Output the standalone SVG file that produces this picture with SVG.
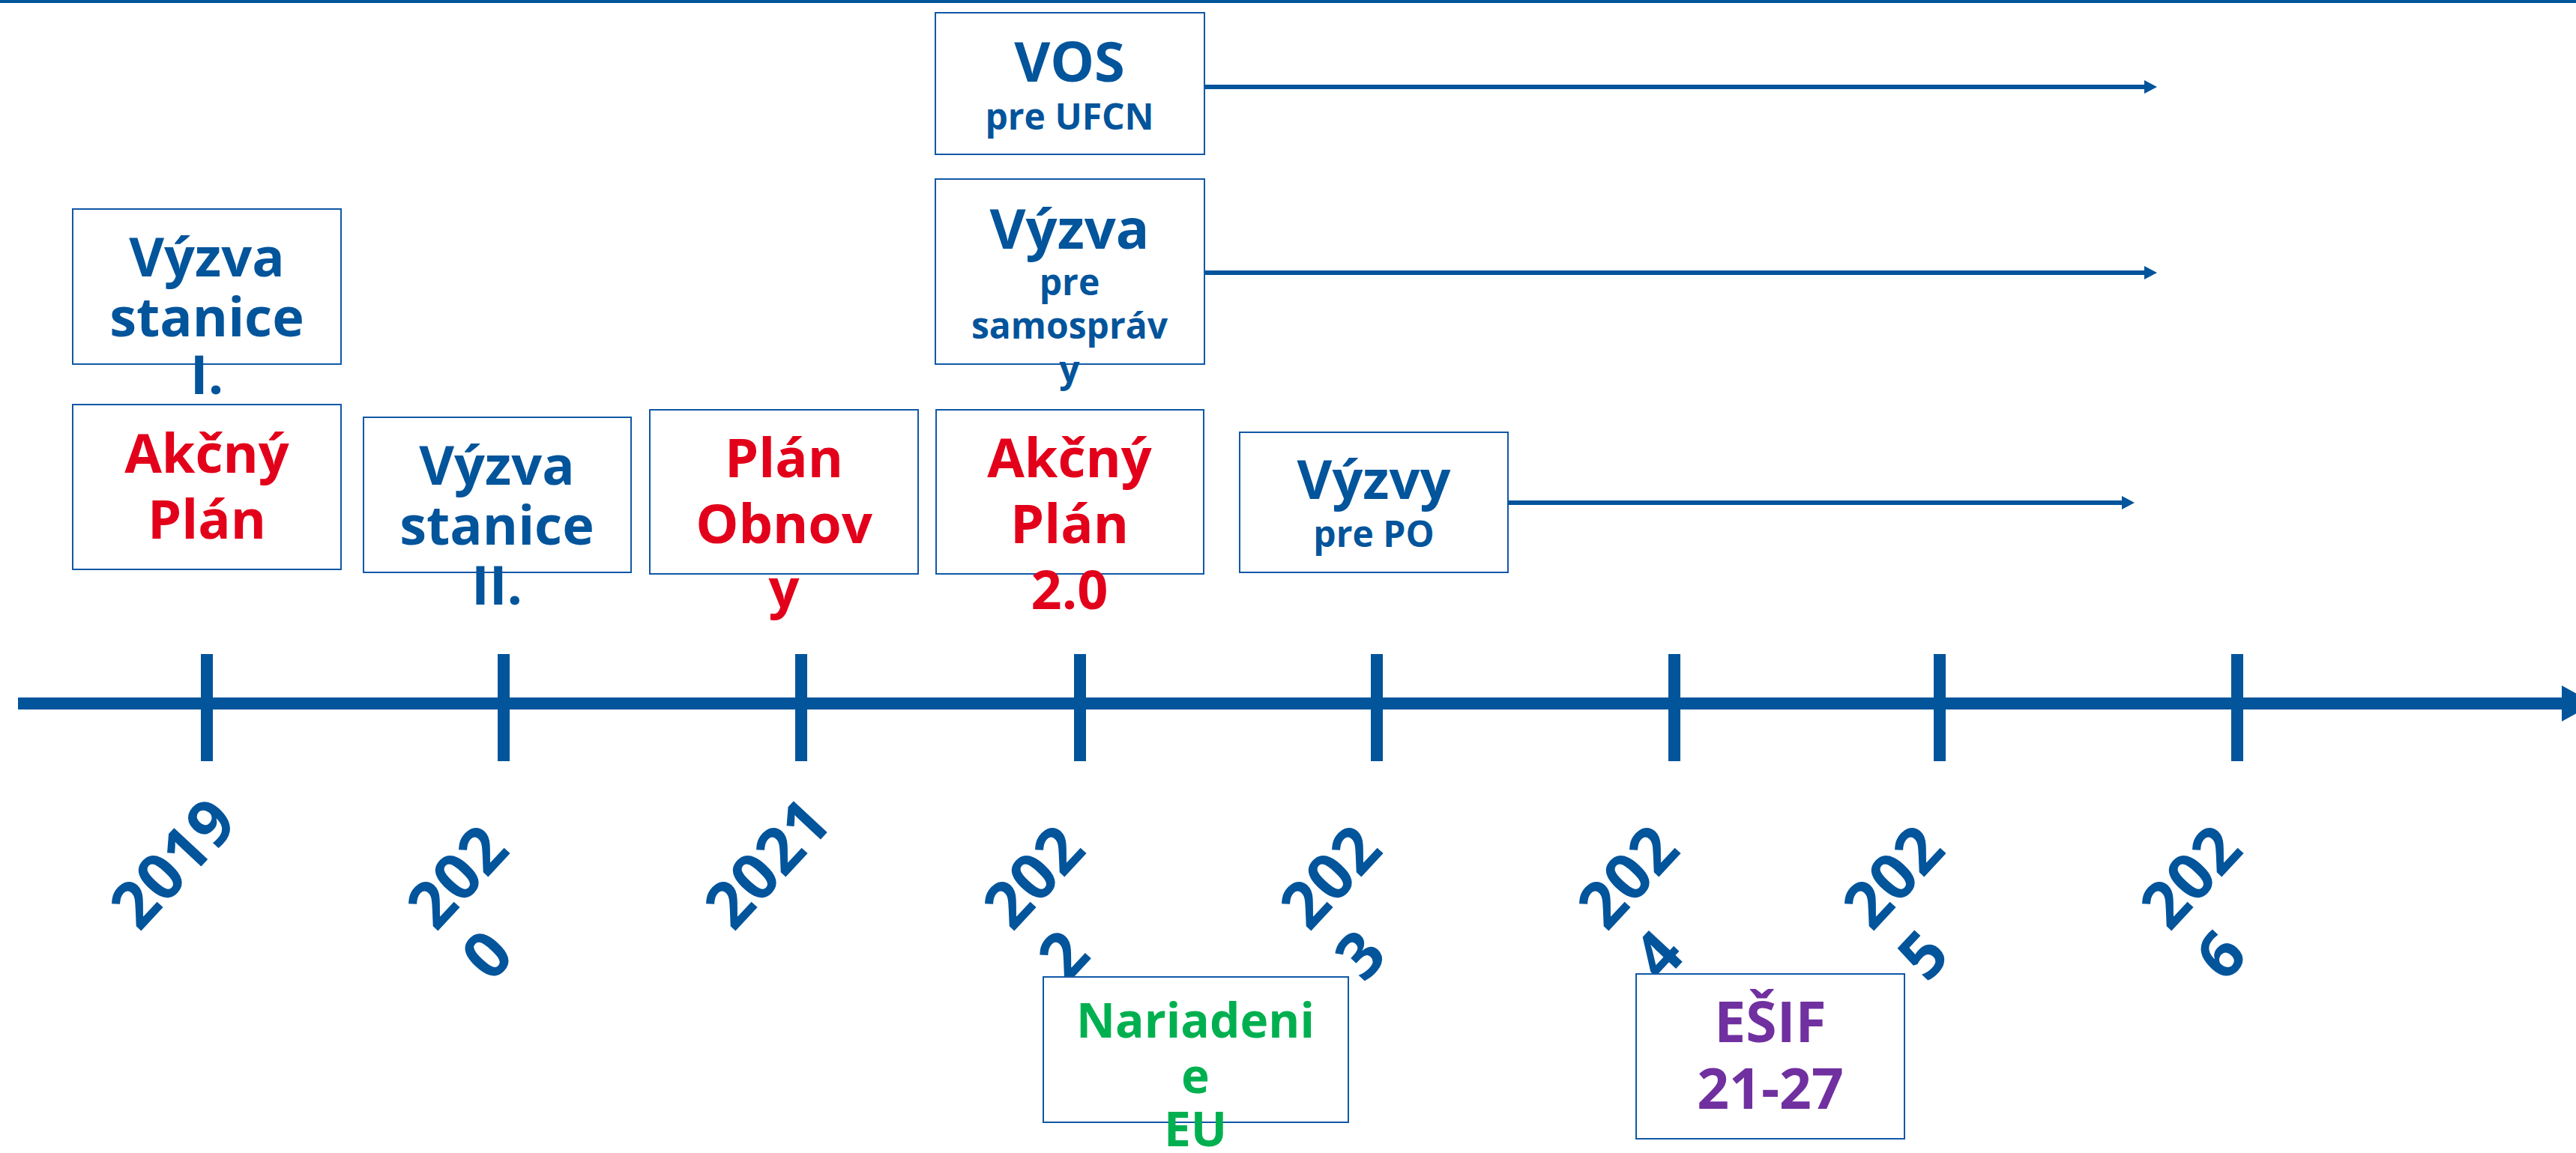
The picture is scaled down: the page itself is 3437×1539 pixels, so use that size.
<svg xmlns="http://www.w3.org/2000/svg" width="3437" height="1539" viewBox="0 0 3437 1539">
<defs>
<style>
.box{fill:#ffffff;stroke:#1158a6;stroke-width:2}
.t{font-family:"Open Sans","Liberation Sans",sans-serif;font-weight:700;text-anchor:middle}
.blue{fill:#02549b}
.red{fill:#e2001a}
.green{fill:#00b050}
.purple{fill:#7030a0}
.big{font-size:72px}
.small{font-size:48px}
.yr{font-family:"Open Sans","Liberation Sans",sans-serif;font-weight:700;font-size:86px;fill:#02549b}
.conn{stroke:#02549b;stroke-width:6;fill:none}
.tick{fill:#02549b}
</style>
<marker id="ah" markerUnits="userSpaceOnUse" markerWidth="17" markerHeight="18" refX="2" refY="9" orient="auto">
<path d="M0,0 L17,9 L0,18 Z" fill="#02549b"/>
</marker>
</defs>
<rect x="0" y="0" width="3437" height="1539" fill="#ffffff"/>
<rect x="0" y="0" width="3437" height="4" fill="#02549b"/>

<g id="timeline">
<rect x="24" y="931" width="3400" height="16" class="tick"/>
<polygon points="3418,915 3461,939 3418,963" class="tick"/>
<rect x="268" y="873" width="16" height="143" class="tick"/>
<rect x="664" y="873" width="16" height="143" class="tick"/>
<rect x="1061" y="873" width="16" height="143" class="tick"/>
<rect x="1433" y="873" width="16" height="143" class="tick"/>
<rect x="1829" y="873" width="16" height="143" class="tick"/>
<rect x="2226" y="873" width="16" height="143" class="tick"/>
<rect x="2580" y="873" width="16" height="143" class="tick"/>
<rect x="2977" y="873" width="16" height="143" class="tick"/>
<text class="yr" transform="translate(186,1245) rotate(-47)">2019</text>
<text class="yr" transform="translate(582,1245) rotate(-47)"><tspan x="0" y="0">202</tspan><tspan x="0" y="100">0</tspan></text>
<text class="yr" transform="translate(979,1245) rotate(-47)">2021</text>
<text class="yr" transform="translate(1351,1245) rotate(-47)"><tspan x="0" y="0">202</tspan><tspan x="0" y="100">2</tspan></text>
<text class="yr" transform="translate(1747,1245) rotate(-47)"><tspan x="0" y="0">202</tspan><tspan x="0" y="100">3</tspan></text>
<text class="yr" transform="translate(2144,1245) rotate(-47)"><tspan x="0" y="0">202</tspan><tspan x="0" y="100">4</tspan></text>
<text class="yr" transform="translate(2498,1245) rotate(-47)"><tspan x="0" y="0">202</tspan><tspan x="0" y="100">5</tspan></text>
<text class="yr" transform="translate(2895,1245) rotate(-47)"><tspan x="0" y="0">202</tspan><tspan x="0" y="100">6</tspan></text>
</g>

<g id="connectors">
<line class="conn" x1="1607" y1="116" x2="2863" y2="116" marker-end="url(#ah)"/>
<line class="conn" x1="1607" y1="364" x2="2863" y2="364" marker-end="url(#ah)"/>
<line class="conn" x1="2012" y1="671" x2="2833" y2="671" marker-end="url(#ah)"/>
</g>

<g id="vyzva-stanice-1">
<rect class="box" x="97" y="279" width="358" height="207"/>
<text class="t blue big" x="276" y="369">Výzva</text>
<text class="t blue big" x="276" y="449">stanice</text>
<text class="t blue big" x="276" y="526">I.</text>
</g>

<g id="akcny-plan">
<rect class="box" x="97" y="540" width="358" height="220"/>
<text class="t red big" x="276" y="631">Akčný</text>
<text class="t red big" x="276" y="719">Plán</text>
</g>

<g id="vyzva-stanice-2">
<rect class="box" x="485" y="557" width="357" height="207"/>
<text class="t blue big" x="663" y="647">Výzva</text>
<text class="t blue big" x="663" y="727">stanice</text>
<text class="t blue big" x="663" y="807">II.</text>
</g>

<g id="plan-obnovy">
<rect class="box" x="867" y="547" width="358" height="219"/>
<text class="t red big" x="1046" y="637">Plán</text>
<text class="t red big" x="1046" y="725">Obnov</text>
<text class="t red big" x="1046" y="811">y</text>
</g>

<g id="akcny-plan-2">
<rect class="box" x="1249" y="547" width="357" height="219"/>
<text class="t red big" x="1427" y="637">Akčný</text>
<text class="t red big" x="1427" y="725">Plán</text>
<text class="t red big" x="1427" y="813">2.0</text>
</g>

<g id="vos-ufcn">
<rect class="box" x="1248" y="17" width="359" height="189"/>
<text class="t blue" style="font-size:74px" x="1427" y="109">VOS</text>
<text class="t blue small" x="1427" y="173">pre UFCN</text>
</g>

<g id="vyzva-samosprav">
<rect class="box" x="1248" y="239" width="359" height="247"/>
<text class="t blue" style="font-size:74px" x="1427" y="332">Výzva</text>
<text class="t blue small" x="1427" y="394">pre</text>
<text class="t blue small" x="1427" y="452">samospráv</text>
<text class="t blue small" x="1427" y="510">y</text>
</g>

<g id="vyzvy-po">
<rect class="box" x="1654" y="577" width="358" height="187"/>
<text class="t blue big" x="1833" y="666">Výzvy</text>
<text class="t blue small" x="1833" y="730">pre PO</text>
</g>

<g id="nariadenie-eu">
<rect class="box" x="1392" y="1304" width="407" height="194"/>
<text class="t green" style="font-size:64px" x="1595" y="1385">Nariadeni</text>
<text class="t green" style="font-size:64px" x="1595" y="1459">e</text>
<text class="t green" style="font-size:64px" x="1595" y="1530">EU</text>
</g>

<g id="esif">
<rect class="box" x="2183" y="1300" width="358" height="220"/>
<text class="t purple" style="font-size:75px" x="2362" y="1391">EŠIF</text>
<text class="t purple" style="font-size:75px" x="2362" y="1480">21-27</text>
</g>
</svg>
